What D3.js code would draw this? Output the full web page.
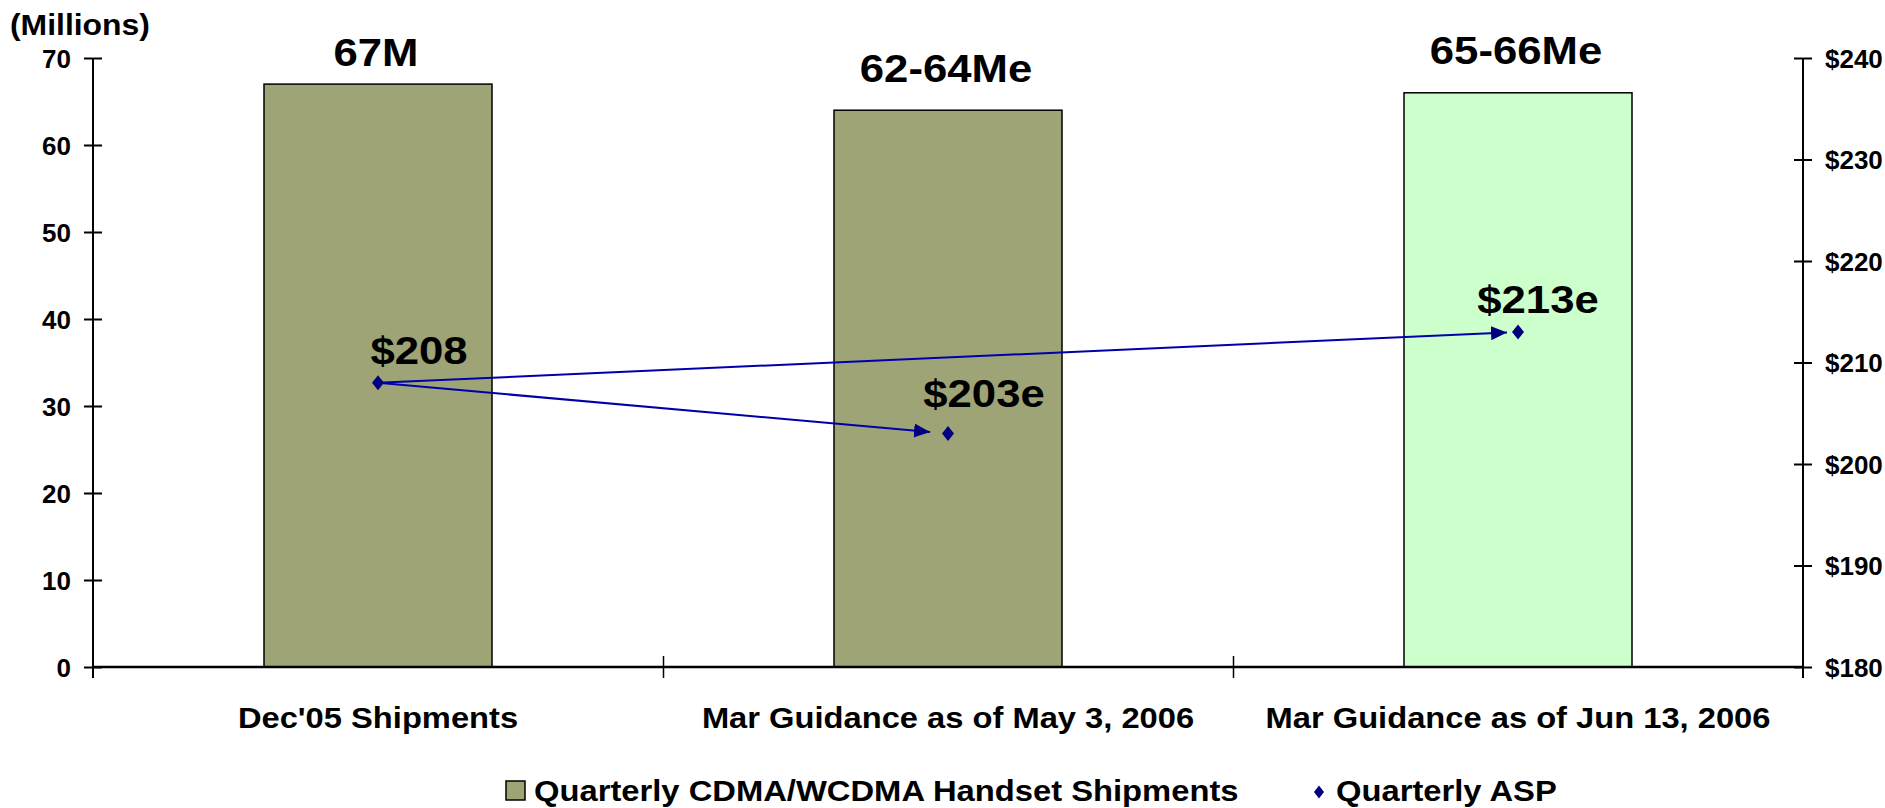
<!DOCTYPE html>
<html>
<head>
  <script src="https://d3js.org/d3.v7.min.js"></script>
  <style>
    body { margin: 0; padding: 0; background: #fff; }
    #chart { width: 1885px; height: 808px; }
    text {
      font-family: Arial, "Liberation Sans", sans-serif;
      font-weight: bold;
      fill: #000;
    }
  </style>
</head>
<body>
  <div id="chart"></div>
  <script>
    /*
    DATA
    */
    var categories = ["Dec'05 Shipments", "Mar Guidance as of May 3, 2006", "Mar Guidance as of Jun 13, 2006"];
    var shipments = [67, 64, 66];
    var shipmentLabels = ["67M", "62-64Me", "65-66Me"];
    var asp = [208, 203, 213];
    var aspLabels = ["$208", "$203e", "$213e"];
    var leftTicks = [0, 10, 20, 30, 40, 50, 60, 70];
    var rightTicks = [180, 190, 200, 210, 220, 230, 240];
    var seriesNames = ["Quarterly CDMA/WCDMA Handset Shipments", "Quarterly ASP"];

    /*
    CANVAS
    */
    var width = 1885, height = 808;
    var margin = {top: 58, left: 93, right: 82, bottom: 141};
    var olive = "#9ea475", mint = "#ccffcc", navy = "#000080";

    var svg = d3.select("#chart")
      .append("svg")
      .attr("width", width)
      .attr("height", height);

    // the source text is a bit wider than Arial, so squeeze it out horizontally
    function place(x, y, sx) {
      return "translate(" + x + "," + y + ") scale(" + sx + ",1)";
    }

    /*
    SCALES
    */
    var xBand = d3.scaleBand()
      .domain(categories)
      .range([margin.left, width - margin.right])
      .paddingInner(0.6)
      .paddingOuter(0.3);

    var xSep = d3.scaleLinear()
      .domain([0, categories.length])
      .range([margin.left, width - margin.right]);

    var yLeft = d3.scaleLinear()
      .domain([0, 70])
      .range([height - margin.bottom, margin.top]);

    var yRight = d3.scaleLinear()
      .domain([180, 240])
      .range([height - margin.bottom, margin.top]);

    function cx(i) { return xBand(categories[i]) + xBand.bandwidth() / 2; }

    /*
    BARS
    */
    svg.selectAll("rect.bar")
      .data(shipments)
      .enter()
      .append("rect")
        .attr("class", "bar")
        .attr("x", function(d, i) { return xBand(categories[i]); })
        .attr("y", function(d) { return yLeft(d); })
        .attr("width", xBand.bandwidth())
        .attr("height", function(d) { return yLeft(0) - yLeft(d); })
        .attr("fill", function(d, i) { return i == 2 ? mint : olive; })
        .attr("stroke", "#000")
        .attr("stroke-width", 1.5);

    var barLabelLift = [18, 28, 29];
    svg.selectAll("text.barLabel")
      .data(shipmentLabels)
      .enter()
      .append("text")
        .attr("class", "barLabel")
        .attr("text-anchor", "middle")
        .style("font-size", "38px")
        .attr("transform", function(d, i) {
          return place(cx(i) - 2, yLeft(shipments[i]) - barLabelLift[i], 1.15);
        })
        .text(function(d) { return d; });

    /*
    AXES
    */
    var leftAxis = svg.append("g")
      .attr("transform", "translate(" + margin.left + ",0)")
      .call(d3.axisLeft(yLeft).tickValues(leftTicks).tickSize(9));
    leftAxis.select(".domain").attr("d", "M0," + margin.top + "V" + (yLeft(0) + 11));

    var rightAxis = svg.append("g")
      .attr("transform", "translate(" + (width - margin.right) + ",0)")
      .call(d3.axisRight(yRight).tickValues(rightTicks).tickSize(9)
        .tickFormat(function(d) { return "$" + d; }));
    rightAxis.select(".domain").attr("d", "M0," + margin.top + "V" + (yLeft(0) + 11));

    [leftAxis, rightAxis].forEach(function(g, k) {
      var dir = k == 0 ? -1 : 1;
      g.selectAll(".domain").attr("stroke", "#000").attr("stroke-width", 2);
      g.selectAll(".tick line").attr("x1", -9).attr("x2", 9).attr("stroke", "#000").attr("stroke-width", 2);
      g.selectAll(".tick text")
        .attr("x", dir * 22 / 1.04)
        .attr("dy", "0.36em")
        .attr("transform", "scale(1.04,1)")
        .style("font-size", "25px");
    });

    var sepAxis = svg.append("g")
      .attr("transform", "translate(0," + yLeft(0) + ")")
      .call(d3.axisBottom(xSep).tickValues([1, 2]).tickSize(11).tickFormat(""));
    sepAxis.select(".domain").attr("d", "M" + margin.left + ",0H" + (width - margin.right))
      .attr("stroke", "#000").attr("stroke-width", 2.5);
    sepAxis.selectAll(".tick line").attr("y1", -11).attr("y2", 11).attr("stroke", "#000").attr("stroke-width", 1.5);

    var catAxis = svg.append("g")
      .attr("transform", "translate(0," + yLeft(0) + ")")
      .call(d3.axisBottom(xBand).tickSize(0));
    catAxis.select(".domain").remove();
    catAxis.selectAll(".tick text")
      .attr("y", 0)
      .attr("dy", 0)
      .attr("transform", place(0, 61, 1.09))
      .style("font-size", "30px");

    svg.append("text")
      .attr("transform", place(10, 35, 1.1))
      .style("font-size", "29px")
      .text("(Millions)");

    /*
    ASP POINTS AND ARROWS
    */
    svg.append("defs").append("marker")
      .attr("id", "arrow")
      .attr("viewBox", "0 0 16 14")
      .attr("refX", 16)
      .attr("refY", 7)
      .attr("markerWidth", 16)
      .attr("markerHeight", 14)
      .attr("markerUnits", "userSpaceOnUse")
      .attr("orient", "auto")
      .append("path")
        .attr("d", "M0,0L16,7L0,14Z")
        .attr("fill", navy);

    var x0 = cx(0), y0 = yRight(asp[0]);
    var arrowGap = {1: 18, 2: 11};
    function arrowEnd(i, axis) {
      var dx = cx(i) - x0, dy = yRight(asp[i]) - y0, len = Math.sqrt(dx * dx + dy * dy);
      return axis == "x" ? cx(i) - arrowGap[i] * dx / len : yRight(asp[i]) - arrowGap[i] * dy / len;
    }
    svg.selectAll("line.arrow")
      .data([1, 2])
      .enter()
      .append("line")
        .attr("class", "arrow")
        .attr("x1", x0)
        .attr("y1", y0)
        .attr("x2", function(i) { return arrowEnd(i, "x"); })
        .attr("y2", function(i) { return arrowEnd(i, "y"); })
        .attr("stroke", "#0000a8")
        .attr("stroke-width", 2)
        .attr("marker-end", "url(#arrow)");

    var diamondPath = "M0,-7.5L6,0L0,7.5L-6,0Z";
    svg.selectAll("path.asp")
      .data(asp)
      .enter()
      .append("path")
        .attr("class", "asp")
        .attr("d", diamondPath)
        .attr("transform", function(d, i) { return "translate(" + cx(i) + "," + yRight(d) + ")"; })
        .attr("fill", navy);

    var aspShift = [[41, -19], [36, -27], [20, -19]];
    svg.selectAll("text.aspLabel")
      .data(aspLabels)
      .enter()
      .append("text")
        .attr("class", "aspLabel")
        .attr("text-anchor", "middle")
        .style("font-size", "38px")
        .attr("transform", function(d, i) {
          return place(cx(i) + aspShift[i][0], yRight(asp[i]) + aspShift[i][1], 1.15);
        })
        .text(function(d) { return d; });

    /*
    LEGEND
    */
    var legend = svg.append("g");
    legend.append("rect")
      .attr("x", 506).attr("y", 781)
      .attr("width", 19).attr("height", 19)
      .attr("fill", olive)
      .attr("stroke", "#000")
      .attr("stroke-width", 1.5);
    legend.append("text")
      .attr("transform", place(534, 801, 1.11))
      .style("font-size", "29.5px")
      .text(seriesNames[0]);
    legend.append("path")
      .attr("d", "M0,-6.5L5,0L0,6.5L-5,0Z")
      .attr("transform", "translate(1319,792)")
      .attr("fill", navy);
    legend.append("text")
      .attr("transform", place(1336, 801, 1.11))
      .style("font-size", "29.5px")
      .text(seriesNames[1]);
  </script>
</body>
</html>
